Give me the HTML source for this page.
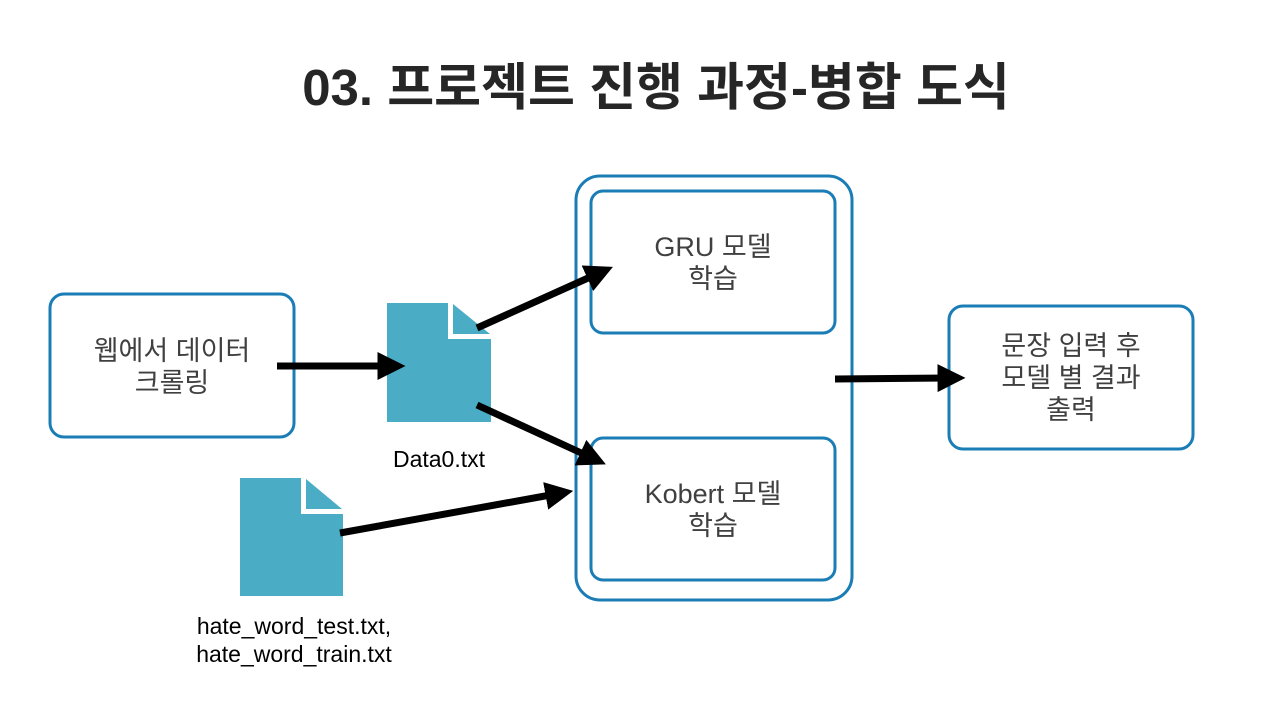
<!DOCTYPE html>
<html><head><meta charset="utf-8"><style>
body{margin:0;background:#fff;}
svg{display:block}
text{font-family:"Liberation Sans","Noto Sans CJK KR",sans-serif;}
</style></head><body>
<svg width="1280" height="720" viewBox="0 0 1280 720">
<defs>
<marker id="ah" markerWidth="4" markerHeight="4" refX="1.5" refY="2" orient="auto" markerUnits="strokeWidth">
<path d="M0,0 L4,2 L0,4 z" fill="#000"/>
</marker>
</defs>
<text x="656" y="105" text-anchor="middle" font-size="51" font-weight="bold" fill="#262626">03. 프로젝트 진행 과정-병합 도식</text>

<rect x="50" y="294" width="244" height="143" rx="14" fill="none" stroke="#1a7db5" stroke-width="3"/>
<text x="172" y="360" text-anchor="middle" font-size="27" fill="#404040">웹에서 데이터</text>
<text x="172" y="392" text-anchor="middle" font-size="27" fill="#404040">크롤링</text>

<rect x="576" y="176" width="276" height="424" rx="24" fill="none" stroke="#1a7db5" stroke-width="3"/>
<rect x="591" y="191" width="244" height="142" rx="12" fill="none" stroke="#1a7db5" stroke-width="3"/>
<text x="713" y="256" text-anchor="middle" font-size="27" fill="#404040">GRU 모델</text>
<text x="713" y="288" text-anchor="middle" font-size="27" fill="#404040">학습</text>
<rect x="591" y="438" width="244" height="142" rx="12" fill="none" stroke="#1a7db5" stroke-width="3"/>
<text x="713" y="503" text-anchor="middle" font-size="27" fill="#404040">Kobert 모델</text>
<text x="713" y="535" text-anchor="middle" font-size="27" fill="#404040">학습</text>

<rect x="949" y="306" width="244" height="143" rx="14" fill="none" stroke="#1a7db5" stroke-width="3"/>
<text x="1071" y="355" text-anchor="middle" font-size="27" fill="#404040">문장 입력 후</text>
<text x="1071" y="387" text-anchor="middle" font-size="27" fill="#404040">모델 별 결과</text>
<text x="1071" y="419" text-anchor="middle" font-size="27" fill="#404040">출력</text>

<polygon points="387,303 448,303 448,339 491,339 491,422 387,422" fill="#4bacc6"/>
<polygon points="453,304 453,334 490,334" fill="#4bacc6"/>
<text x="439" y="467" text-anchor="middle" font-size="23" fill="#000">Data0.txt</text>

<polygon points="240,478 301,478 301,514 343,514 343,596 240,596" fill="#4bacc6"/>
<polygon points="306,479 306,509 342,509" fill="#4bacc6"/>
<text x="294" y="634" text-anchor="middle" font-size="23" fill="#000">hate_word_test.txt,</text>
<text x="294" y="662" text-anchor="middle" font-size="23" fill="#000">hate_word_train.txt</text>

<g stroke="#000" stroke-width="7" fill="none">
<line x1="277" y1="366" x2="388" y2="366" marker-end="url(#ah)"/>
<line x1="477" y1="328" x2="597" y2="274" marker-end="url(#ah)"/>
<line x1="477" y1="405" x2="590" y2="457" marker-end="url(#ah)"/>
<line x1="340" y1="533" x2="556" y2="494" marker-end="url(#ah)"/>
<line x1="835" y1="379" x2="948" y2="378" marker-end="url(#ah)"/>
</g>
</svg>
</body></html>
